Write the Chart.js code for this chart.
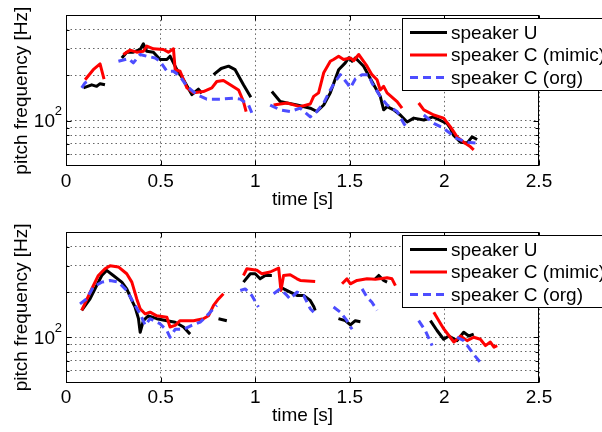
<!DOCTYPE html>
<html>
<head>
<meta charset="utf-8">
<script src="https://cdn.jsdelivr.net/npm/chart.js@4/dist/chart.umd.min.js"></script>
<style>
  body { margin: 0; background: #fff; }
  canvas { position: absolute; left: 0; }
</style>
</head>
<body>
<canvas id="chartTop" width="602" height="216" style="top:0px"></canvas>
<canvas id="chartBottom" width="602" height="216" style="top:216px"></canvas>
<script>
// series labels
const seriesLabels = ['speaker U', 'speaker C (mimic)', 'speaker C (org)'];

// axis ticks
const xTicks = [0, 0.5, 1, 1.5, 2, 2.5];
const yGrid = [60, 70, 80, 90, 100, 200, 300, 400];

// --- top panel (null = gap in the pitch track) ---
const topU_t = [0.092,0.136,0.162,0.180,0.206, 0.25,
  0.295,0.321,0.356,0.392,0.409,0.427,0.462,0.497,0.533,0.550,0.586,0.621,0.665,0.700,0.718, 0.75,
  0.780,0.820,0.859,0.894,0.938,0.977, 1.03,
  1.088,1.132,1.168,1.221,1.291,1.326,1.362,1.397,1.441,1.476,1.494,1.512,1.529,1.547,1.573,1.617,1.661,1.679,1.697,1.732,1.767,1.803,1.838,1.891,1.940,1.996,2.014,2.032,2.048,2.085,2.120,2.146,2.173];
const topU_f = [165,173,169,176,173, null,
  261,285,285,297,324,289,285,255,255,268,218,187,149,162,152, null,
  202,222,230,218,173,143, null,
  156,134,131,127,121,115,127,153,218,242,261,248,261,248,230,182,145,118,124,118,109,98,104,101,106,98,96,89,80,72,71,78,75];

const topCm_t = [0.101,0.144,0.180,0.201, 0.25,
  0.303,0.339,0.374,0.409,0.427,0.462,0.515,0.541,0.568,0.577,0.603,0.639,0.674,0.726,0.771,0.797,0.832,0.868,0.912,0.938,0.952, 1.0,
  1.097,1.168,1.238,1.291,1.309,1.335,1.362,1.397,1.414,1.441,1.467,1.503,1.520,1.547,1.573,1.591,1.617,1.644,1.661,1.679,1.697,1.750,1.776, 1.82,
  1.864,1.891,1.944,1.996,2.032,2.067,2.102,2.138,2.155];
const topCm_f = [187,218,238,189, null,
  275,294,285,289,313,300,297,285,300,218,213,165,153,156,165,182,185,173,160,134,115, null,
  127,131,124,129,145,153,208,248,255,268,255,261,250,275,248,230,202,187,160,169,153,134,121, null,
  131,118,109,104,91,78,72,67,64];

const topCo_t = [0.083,0.100,0.127, 0.2,
  0.277,0.330,0.356,0.392,0.427,0.471,0.497,0.533,0.568,0.603,0.639,0.692,0.744,0.815,0.885,0.921,0.965,0.991, 1.03,
  1.079,1.132,1.185,1.238,1.291,1.326,1.362,1.397,1.423,1.450,1.485,1.503,1.530,1.565,1.600,1.617,1.661,1.697,1.750,1.785,1.803, 1.85,
  1.891,1.944,1.996,2.032,2.067,2.120,2.173];
const topCo_f = [165,178,187, null,
  248,258,242,275,268,261,248,213,213,197,169,149,139,139,141,139,127,106, null,
  127,118,115,121,106,115,131,160,182,202,178,165,190,202,202,178,145,127,115,96,89, null,
  109,96,89,82,76,72,71];

// --- bottom panel ---
const botU_t = [0.083,0.127,0.162,0.189,0.215,0.250,0.295,0.321,0.348,0.365,0.383,0.392,0.409,0.435,0.480,0.533,0.577,0.621,0.656, 0.73,
  0.806,0.850, 0.9,
  0.938,0.974,1.000,1.026,1.053,1.088, 1.11,
  1.132,1.185,1.221,1.256,1.291,1.310,1.317, 1.38,
  1.440,1.476,1.503,1.529,1.556, 1.6,
  1.635,1.653,1.679,1.697, 1.8,
  1.926,1.961,1.996,2.023,2.067,2.102,2.129,2.155];
const botU_f = [151,180,221,258,279,258,233,210,176,159,133,108,129,139,133,129,126,117,105, null,
  133,129, null,
  233,265,265,245,258,258, null,
  216,200,190,190,176,160,151, null,
  133,129,121,129,127, null,
  245,258,239,233, null,
  129,111,97,102,95,108,102,105];

const botCm_t = [0.083,0.136,0.171,0.206,0.233,0.277,0.321,0.348,0.374,0.392,0.419,0.444,0.480,0.533,0.550,0.577,0.603,0.674,0.726,0.753,0.780,0.806,0.832, 0.88,
  0.938,0.956,1.009,1.035,1.079,1.124,1.136,1.150,1.185,1.221,1.238,1.317, 1.39,
  1.459,1.485,1.503,1.538,1.591,1.635,1.697,1.723,1.741, 1.85,
  1.944,1.980,1.996,2.050,2.085,2.120,2.155,2.190,2.217,2.243,2.262,2.279];
const botCm_f = [151,210,258,286,299,294,265,233,180,155,143,147,139,136,117,120,129,129,133,139,163,180,195, null,
  258,286,279,265,272,289,205,258,261,245,239,235, null,
  227,245,227,239,245,243,249,245,221, null,
  147,123,114,93,102,95,100,97,88,93,86,88];

const botCo_t = [0.074,0.109,0.144,0.189,0.233,0.277,0.321,0.356,0.392,0.419,0.444,0.497,0.533,0.550,0.577,0.621,0.665,0.709,0.744,0.780,0.797, 0.86,
  0.921,0.947,0.982,1.017, 1.06,
  1.097,1.132,1.168,1.185,1.221,1.256,1.291,1.309, 1.36,
  1.414,1.450,1.485,1.512, 1.54,
  1.565,1.591,1.617,1.644, 1.75,
  1.864,1.899,1.935, 2.0,
  2.067,2.102,2.155,2.190];
const botCo_f = [167,180,216,233,239,233,205,171,143,120,133,123,111,100,113,113,120,126,139,155,163, null,
  205,210,190,159, null,
  195,210,190,180,200,190,155,147, null,
  159,147,129,113, null,
  210,185,171,151, null,
  129,111,88, null,
  100,95,77,68];

const FONT = '"Liberation Sans", Arial, Helvetica, sans-serif';
Chart.defaults.font.family = FONT;
Chart.defaults.font.size = 19;
Chart.defaults.color = '#000';

const pts = (ts, fs) => ts.map((t, i) => ({x: t, y: fs[i]}));

// box round the axes + inward tick marks like matlab, and the 10^2 label
const axesFrame = {
  id: 'axesFrame',
  afterDatasetsDraw(chart) {
    const {ctx, chartArea: a, scales} = chart;
    const L = Math.round(a.left) + 0.5, R = Math.round(a.right) - 0.5;
    const T = Math.round(a.top) + 0.5, B = Math.round(a.bottom) - 0.5;
    ctx.save();
    ctx.strokeStyle = '#000';
    ctx.lineWidth = 1;
    ctx.setLineDash([]);
    ctx.strokeRect(L, T, R - L, B - T);
    ctx.beginPath();
    xTicks.forEach(v => {
      const px = Math.round(scales.x.getPixelForValue(v)) + 0.5;
      ctx.moveTo(px, B); ctx.lineTo(px, B - 5);
      ctx.moveTo(px, T); ctx.lineTo(px, T + 5);
    });
    yGrid.forEach(v => {
      const py = Math.round(scales.y.getPixelForValue(v)) + 0.5;
      const len = v === 100 ? 5 : 3;
      ctx.moveTo(L, py); ctx.lineTo(L + len, py);
      ctx.moveTo(R, py); ctx.lineTo(R - len, py);
    });
    ctx.stroke();

    // y tick label 10^2 with a real superscript
    const y100 = scales.y.getPixelForValue(100);
    ctx.fillStyle = '#000';
    ctx.textBaseline = 'middle';
    ctx.textAlign = 'right';
    ctx.font = '13px ' + FONT;
    ctx.fillText('2', 62, y100 - 9);
    ctx.font = '19px ' + FONT;
    ctx.fillText('10', 55, y100 + 1);
    ctx.restore();
  }
};

const legendBox = {
  id: 'legendBox',
  afterDraw(chart) {
    const ctx = chart.ctx;
    const x0 = 402.5, y0 = Math.round(chart.chartArea.top + 3) + 0.5;
    ctx.save();
    ctx.fillStyle = '#fff';
    ctx.fillRect(x0, y0, 230, 72);
    ctx.strokeStyle = '#000';
    ctx.lineWidth = 1;
    ctx.strokeRect(x0, y0, 230, 72);
    ctx.font = '19px ' + FONT;
    ctx.textBaseline = 'middle';
    ctx.fillStyle = '#000';
    chart.data.datasets.forEach((ds, i) => {
      const y = y0 + 14 + i * 22.5;
      ctx.beginPath();
      ctx.strokeStyle = ds.borderColor;
      ctx.lineWidth = ds.borderWidth;
      ctx.setLineDash(ds.borderDash || []);
      ctx.moveTo(410, y); ctx.lineTo(447, y);
      ctx.stroke();
      ctx.fillText(ds.label, 451, y + 1);
    });
    ctx.restore();
  }
};

function makeChart(id, padTop, xHeight, u, cm, co) {
  const ds = (label, data, color, dash, order) => ({
    label, data, borderColor: color, borderWidth: 3, borderDash: dash,
    pointRadius: 0, tension: 0, spanGaps: false, order,
    borderJoinStyle: 'round', fill: false
  });
  return new Chart(document.getElementById(id), {
    type: 'line',
    data: {
      datasets: [
        ds(seriesLabels[0], u, '#000000', undefined, 3),
        ds(seriesLabels[1], cm, '#ff0000', undefined, 2),
        ds(seriesLabels[2], co, '#4d4dff', [8, 5], 1)
      ]
    },
    options: {
      responsive: false,
      animation: false,
      layout: { padding: { left: 0, right: 63, top: padTop, bottom: 0 } },
      plugins: { legend: { display: false }, tooltip: { enabled: false } },
      scales: {
        x: {
          type: 'linear', min: 0, max: 2.5,
          afterFit: s => { s.height = xHeight; },
          ticks: { stepSize: 0.5, padding: 4, maxRotation: 0, callback: v => String(v) },
          grid: { color: 'rgba(0,0,0,0.6)', drawTicks: false },
          border: { display: false, dash: [1.5, 3] },
          title: { display: true, text: 'time [s]', padding: { top: 0, bottom: 5 } }
        },
        y: {
          type: 'logarithmic', min: 50, max: 500,
          afterFit: s => { s.width = 66; },
          afterBuildTicks: s => { s.ticks = yGrid.map(v => ({ value: v })); },
          ticks: { autoSkip: false, padding: 4, callback: () => '' },
          grid: { color: 'rgba(0,0,0,0.6)', drawTicks: false },
          border: { display: false, dash: [1.5, 3] },
          title: { display: true, text: 'pitch frequency [Hz]', padding: { top: 10, bottom: 0 } }
        }
      }
    },
    plugins: [axesFrame, legendBox]
  });
}

makeChart('chartTop', 15, 50, pts(topU_t, topU_f), pts(topCm_t, topCm_f), pts(topCo_t, topCo_f));
makeChart('chartBottom', 16.3, 49.5, pts(botU_t, botU_f), pts(botCm_t, botCm_f), pts(botCo_t, botCo_f));
</script>
</body>
</html>
